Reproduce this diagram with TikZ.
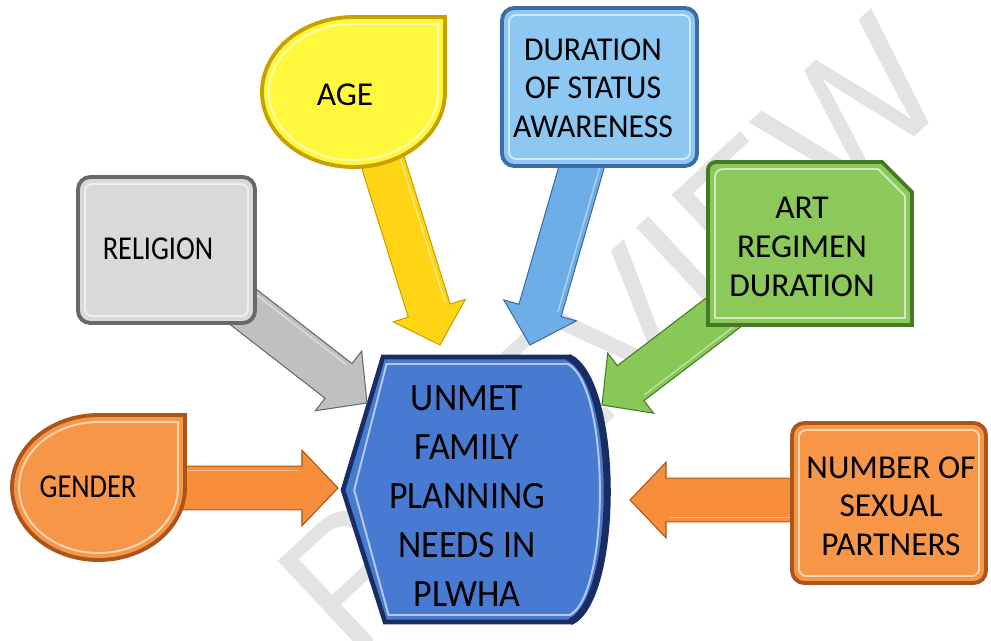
\documentclass[tikz,border=0pt]{standalone}
\usepackage{fontspec}
\setmainfont{Carlito}
\newfontfamily\wmfont{Liberation Sans}
\usetikzlibrary{calc}

\definecolor{orangeF}{RGB}{247,150,70}
\definecolor{orangeD}{RGB}{170,85,28}
\definecolor{orangeA}{RGB}{246,142,60}
\definecolor{greyF}{RGB}{217,217,217}
\definecolor{greyD}{RGB}{105,105,105}
\definecolor{greyA}{RGB}{192,192,192}
\definecolor{yellowF}{RGB}{255,248,60}
\definecolor{yellowD}{RGB}{200,160,0}
\definecolor{yellowA}{RGB}{255,212,20}
\definecolor{skyF}{RGB}{140,200,242}
\definecolor{skyD}{RGB}{60,108,165}
\definecolor{skyA}{RGB}{110,174,232}
\definecolor{greenF}{RGB}{140,200,90}
\definecolor{greenD}{RGB}{68,122,38}
\definecolor{greenA}{RGB}{136,200,88}
\definecolor{hubF}{RGB}{72,122,210}
\definecolor{hubD}{RGB}{25,45,100}

\tikzset{
  rim/.style={fill=#1F, draw=#1D, line width=2.2pt},
  shine/.style={draw=white, opacity=.6, line width=1.1pt},
  lbl/.style={font=\fontsize{19}{22}\selectfont, align=center},
  hublbl/.style={font=\fontsize{22}{28}\selectfont, align=center, xscale=.93},
  watermark/.style={font=\wmfont\fontsize{102}{110}\selectfont, text=black!11, rotate=43}
}

% drop shape, sharp corner top right: x1 y1 x2 y2
\newcommand\dropshape[5][]{\path[#1] (#4,{(#3+#5)/2}) arc[start angle=0,end angle=270,x radius={(#4-#2)/2},y radius={(#5-#3)/2}] -- (#4,#3) -- cycle;}
% box with top right corner cut off: x1 y1 x2 y2 cut
\newcommand\snipbox[6][]{\path[#1] (#2,{#3+8}) arc[start angle=180,end angle=270,radius=8] -- ({#4-#6},#3) -- (#4,{#3+#6}) -- (#4,#5) -- (#2,#5) -- cycle;}
% centre shape, pointed left and bulging right: inset
\newcommand\hubshape[2][]{\path[#1] ({343+1.6*#2},490) -- ({383+0.5*#2},{357+#2}) -- (568,{357+#2}) .. controls ({620-1.4*#2},{380+#2}) and ({620-1.4*#2},{600-#2}) .. (570,{622-#2}) -- ({385+0.5*#2},{622-#2}) -- cycle;}
% block arrow between two named coordinates
\newcommand\blockarrow[3]{%
  \path let \p1=(#2), \p2=(#3) in \pgfextra{\pgfmathparse{atan2(\y2-\y1,\x2-\x1)}\xdef\arrang{\pgfmathresult}\pgfmathparse{veclen(\x2-\x1,\y2-\y1)}\xdef\arrlen{\pgfmathresult}};
  \path[fill=#1A, draw=#1D, line width=.6pt, shift={(#2)}, rotate=\arrang, x=1pt, y=1pt] (0,-12.5) -- ({\arrlen-20.5},-12.5) -- ({\arrlen-20.5},-21.5) -- (\arrlen,0) -- ({\arrlen-20.5},21.5) -- ({\arrlen-20.5},12.5) -- (0,12.5) -- cycle;
  \path[draw=white, opacity=.45, line width=.8pt, shift={(#2)}, rotate=\arrang, x=1pt, y=1pt] (0,10) -- ({\arrlen-22.5},10);}

\begin{document}
\begin{tikzpicture}[x=0.02cm,y=-0.02cm]
  \useasboundingbox (0,0) rectangle (991,640);
  \node[watermark] (wm) at (612,335) {PREVIEW};

  % centre
  \hubshape[fill=hubF, draw=hubD, line width=2.6pt]{0}
  \draw[hubD, line width=4pt] (568,357) .. controls (620,380) and (620,600) .. (570,622);
  \hubshape[shine]{7}

  % arrow ends
  \coordinate (gender-o) at (100,488);   \coordinate (gender-i) at (338,488);
  \coordinate (religion-o) at (170,250); \coordinate (religion-i) at (367,403);
  \coordinate (age-o) at (365,105);      \coordinate (age-i) at (440,345);
  \coordinate (aware-o) at (601,100);    \coordinate (aware-i) at (530,345);
  \coordinate (art-o) at (800,254);      \coordinate (art-i) at (602,405);
  \coordinate (partner-o) at (880,500);  \coordinate (partner-i) at (630,500);

  \blockarrow{orange}{gender-o}{gender-i}
  \blockarrow{grey}{religion-o}{religion-i}
  \blockarrow{yellow}{age-o}{age-i}
  \blockarrow{sky}{aware-o}{aware-i}
  \blockarrow{green}{art-o}{art-i}
  \blockarrow{orange}{partner-o}{partner-i}

  % outer boxes
  \dropshape[rim=orange]{12}{415}{185}{560}
  \dropshape[shine]{19}{422}{178}{553}
  \dropshape[rim=yellow]{262}{17}{445}{167}
  \dropshape[shine]{269}{24}{438}{160}
  \draw[rim=grey, rounded corners=7pt] (78,177) rectangle (255,323);
  \draw[shine, rounded corners=4pt] (85,184) rectangle (248,316);
  \draw[rim=sky, rounded corners=7pt] (502,8) rectangle (697,166);
  \draw[shine, rounded corners=4pt] (509,15) rectangle (690,159);
  \draw[rim=orange, rounded corners=7pt] (792,423) rectangle (986,583);
  \draw[shine, rounded corners=4pt] (799,430) rectangle (979,576);
  \snipbox[rim=green]{708}{162}{912}{325}{30}
  \snipbox[shine]{715}{169}{905}{318}{27}

  \node[lbl, xscale=.85] (gender) at (88,487) {GENDER};
  \node[lbl, xscale=.85] (religion) at (158,249) {RELIGION};
  \node[lbl] (age) at (345,95) {AGE};
  \node[lbl, xscale=.95] (aware) at (593,88) {DURATION\\OF STATUS\\AWARENESS};
  \node[lbl] (art) at (802,247) {ART\\REGIMEN\\DURATION};
  \node[lbl] (partner) at (891,506) {NUMBER OF\\SEXUAL\\PARTNERS};
  \node[hublbl] (unmet) at (467,496) {UNMET\\FAMILY\\PLANNING\\NEEDS IN\\PLWHA};
\end{tikzpicture}
\end{document}
